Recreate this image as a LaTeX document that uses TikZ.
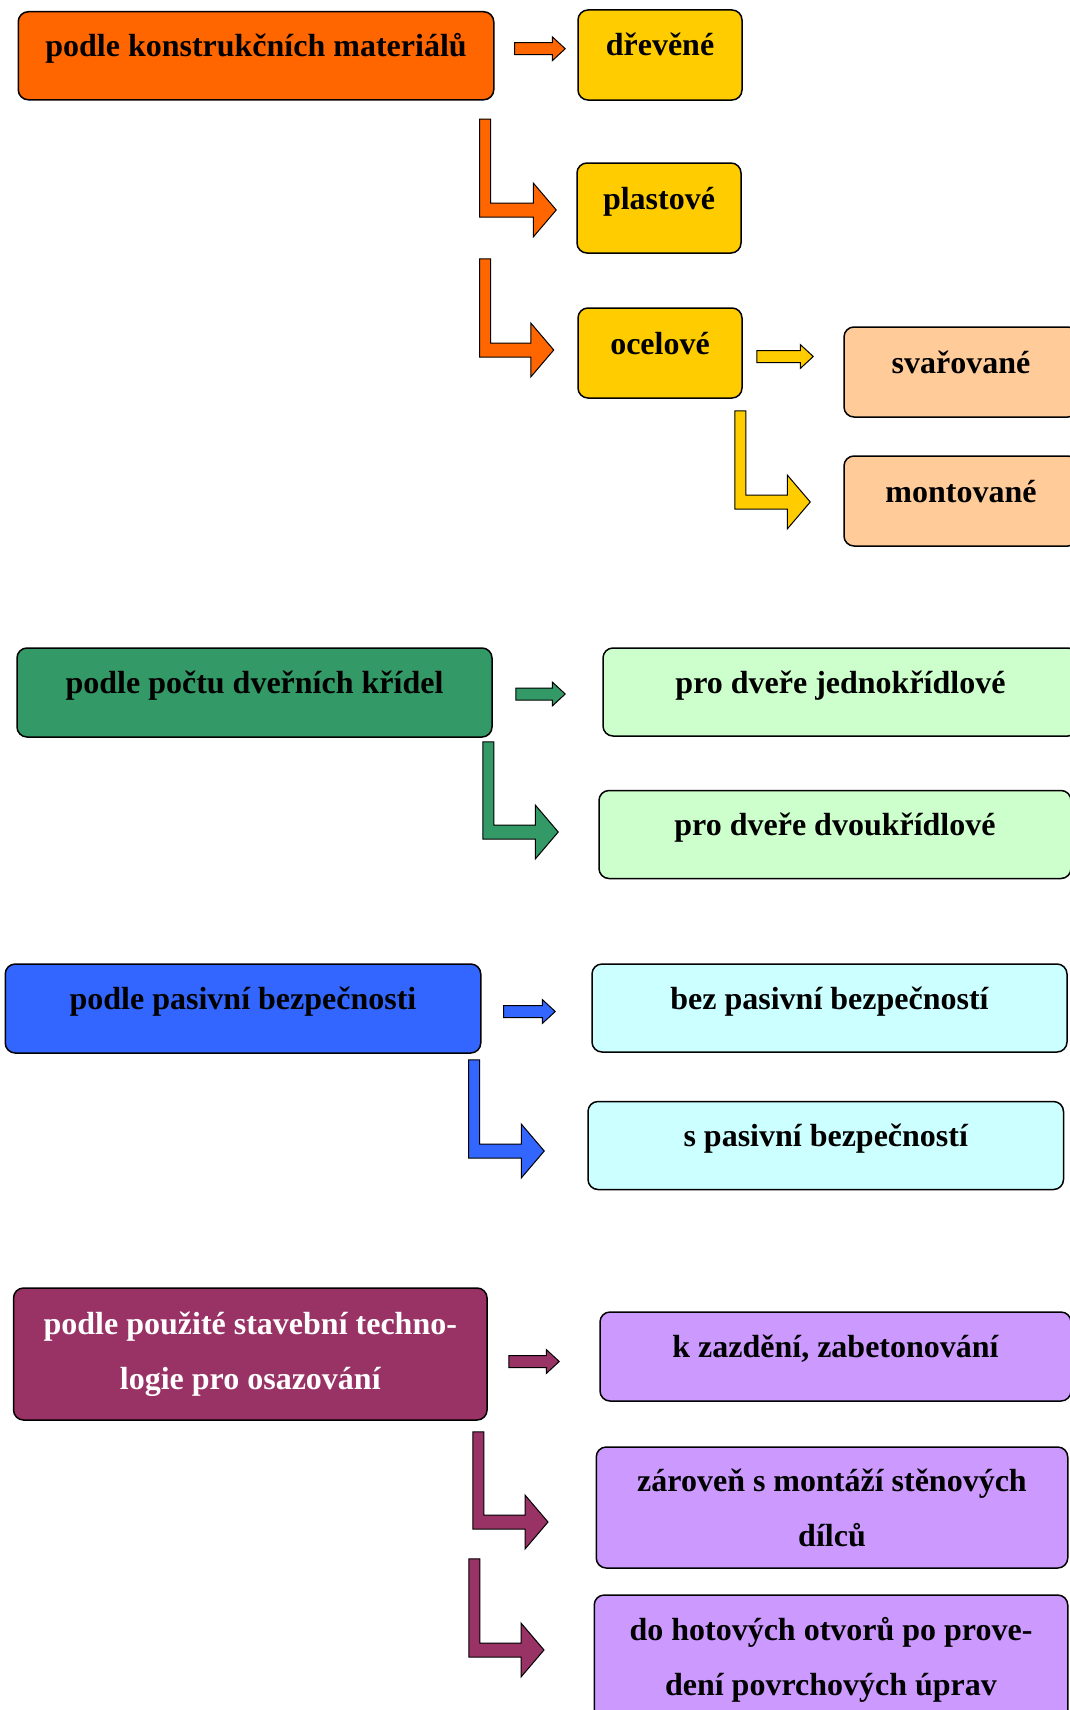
\documentclass[tikz,border=0pt]{standalone}
\usepackage{fontspec}
\setmainfont{Liberation Serif}
\usetikzlibrary{calc}

\definecolor{orangeA}{HTML}{FF6600}
\definecolor{goldA}{HTML}{FFCC00}
\definecolor{peachA}{HTML}{FFCC99}
\definecolor{greenA}{HTML}{339966}
\definecolor{mintA}{HTML}{CCFFCC}
\definecolor{blueA}{HTML}{3366FF}
\definecolor{cyanA}{HTML}{CCFFFF}
\definecolor{plumA}{HTML}{993366}
\definecolor{lilacA}{HTML}{CC99FF}

\tikzset{
  box/.style={draw=black, line width=1.5pt, rounded corners=10pt, inner sep=0pt,
    align=center, font=\bfseries\fontsize{32}{55}\selectfont},
  onerow/.style={box, text height=45pt, text depth=43pt},
  tworow/.style={box},
  blockarrow/.style={fill=#1, draw=black, line width=1pt, line join=miter}
}

\newcommand{\flatarrow}[3]{%
  \filldraw[blockarrow=#1]
    ($(#2)+(0,-6)$) -- ($(#3)+(-13,-6)$) -- ($(#3)+(-13,-12)$) -- (#3)
    -- ($(#3)+(-13,12)$) -- ($(#3)+(-13,6)$) -- ($(#2)+(0,6)$) -- cycle;}
\newcommand{\bentarrow}[3]{%
  \filldraw[blockarrow=#1]
    (#2) -- ($(#2)+(11,0)$) -- ($(#3 -| #2)+(11,-7)$) -- ($(#3)+(-23,-7)$)
    -- ($(#3)+(-23,-27)$) -- (#3) -- ($(#3)+(-23,27)$) -- ($(#3)+(-23,7)$)
    -- ($(#3 -| #2)+(0,7)$) -- cycle;}

\begin{document}
\begin{tikzpicture}[x=1pt, y=-1pt]
  \useasboundingbox (0,0) rectangle (1069,1710);

  \node[onerow, fill=orangeA, minimum width=475.5pt, minimum height=87.5pt] (mat) at (256,55.75) {podle konstrukčních materiálů};
  \node[onerow, fill=goldA, minimum width=164pt, minimum height=90pt] (drev) at (660,55) {dřevěné};
  \node[onerow, fill=goldA, minimum width=164pt, minimum height=90pt] (plast) at (659,208) {plastové};
  \node[onerow, fill=goldA, minimum width=164pt, minimum height=90pt] (ocel) at (660,353) {ocelové};
  \node[onerow, fill=peachA, minimum width=234pt, minimum height=90pt] (svar) at (961,372) {svařované};
  \node[onerow, fill=peachA, minimum width=234pt, minimum height=90pt] (mont) at (961,501) {montované};

  \node[onerow, fill=greenA, minimum width=475pt, minimum height=89pt] (pocet) at (254.5,692.5) {podle počtu dveřních křídel};
  \node[onerow, fill=mintA, minimum width=475pt, minimum height=88pt] (jedn) at (840.5,692) {pro dveře jednokřídlové};
  \node[onerow, fill=mintA, minimum width=472pt, minimum height=88pt] (dvou) at (835,834.5) {pro dveře dvoukřídlové};

  \node[onerow, fill=blueA, minimum width=475.5pt, minimum height=89pt] (pas) at (243,1008.5) {podle pasivní bezpečnosti};
  \node[onerow, fill=cyanA, minimum width=475pt, minimum height=88pt] (bez) at (829.5,1008) {bez pasivní bezpečností};
  \node[onerow, fill=cyanA, minimum width=475.5pt, minimum height=87pt] (spas) at (825.75,1145.5) {s pasivní bezpečností};

  \node[tworow, fill=plumA, text=white, minimum width=473.5pt, minimum height=132pt] (tech) at (250.3,1354) {podle použité stavební techno-\\logie pro osazování};
  \node[onerow, fill=lilacA, minimum width=471pt, minimum height=89pt] (kzaz) at (835.5,1356.5) {k zazdění, zabetonování};
  \node[tworow, fill=lilacA, minimum width=471.5pt, minimum height=121pt] (zarov) at (832,1507.5) {zároveň s montáží stěnových\\dílců};
  \node[tworow, fill=lilacA, minimum width=473.5pt, minimum height=130pt] (dohot) at (831,1660) {do hotových otvorů po prove-\\dení povrchových úprav};

  \coordinate (s1) at ($(mat.east)+(20,-7)$);
  \coordinate (e1) at ($(s1 -| drev.west)+(-12,0)$);
  \coordinate (s2) at ($(ocel.east)+(14,3.5)$);
  \coordinate (e2) at ($(s2 -| svar.west)+(-30,0)$);
  \coordinate (s3) at ($(pocet.east)+(23,1.5)$);
  \coordinate (e3) at ($(s3 -| jedn.west)+(-37,0)$);
  \coordinate (s4) at ($(pas.east)+(22,3)$);
  \coordinate (e4) at ($(s4 -| bez.west)+(-36,0)$);
  \coordinate (s5) at ($(tech.east)+(21,7.5)$);
  \coordinate (e5) at ($(s5 -| kzaz.west)+(-40,0)$);
  \flatarrow{orangeA}{s1}{e1}
  \flatarrow{goldA}{s2}{e2}
  \flatarrow{greenA}{s3}{e3}
  \flatarrow{blueA}{s4}{e4}
  \flatarrow{plumA}{s5}{e5}

  \coordinate (t1) at ($(mat.south east)+(-15,18.5)$);
  \coordinate (p1) at ($(plast.west)+(-20,2)$);
  \coordinate (t2) at ($(t1 |- plast.south)+(0,5)$);
  \coordinate (p2) at ($(ocel.west)+(-23.5,-3)$);
  \coordinate (t3) at ($(ocel.south east)+(-8,12)$);
  \coordinate (p3) at ($(mont.west)+(-33,1)$);
  \coordinate (t4) at ($(pocet.south east)+(-10,4)$);
  \coordinate (p4) at ($(dvou.west)+(-40,-2.5)$);
  \coordinate (t5) at ($(pas.south east)+(-13,6)$);
  \coordinate (p5) at ($(spas.west)+(-43,5.5)$);
  \coordinate (t6) at ($(tech.south east)+(-15,11)$);
  \coordinate (p6) at ($(zarov.west)+(-47.5,14.5)$);
  \coordinate (t7) at ($(t6)+(-4,127)$);
  \coordinate (p7) at ($(dohot.west)+(-49.5,-10)$);
  \bentarrow{orangeA}{t1}{p1}
  \bentarrow{orangeA}{t2}{p2}
  \bentarrow{goldA}{t3}{p3}
  \bentarrow{greenA}{t4}{p4}
  \bentarrow{blueA}{t5}{p5}
  \bentarrow{plumA}{t6}{p6}
  \bentarrow{plumA}{t7}{p7}
\end{tikzpicture}
\end{document}
